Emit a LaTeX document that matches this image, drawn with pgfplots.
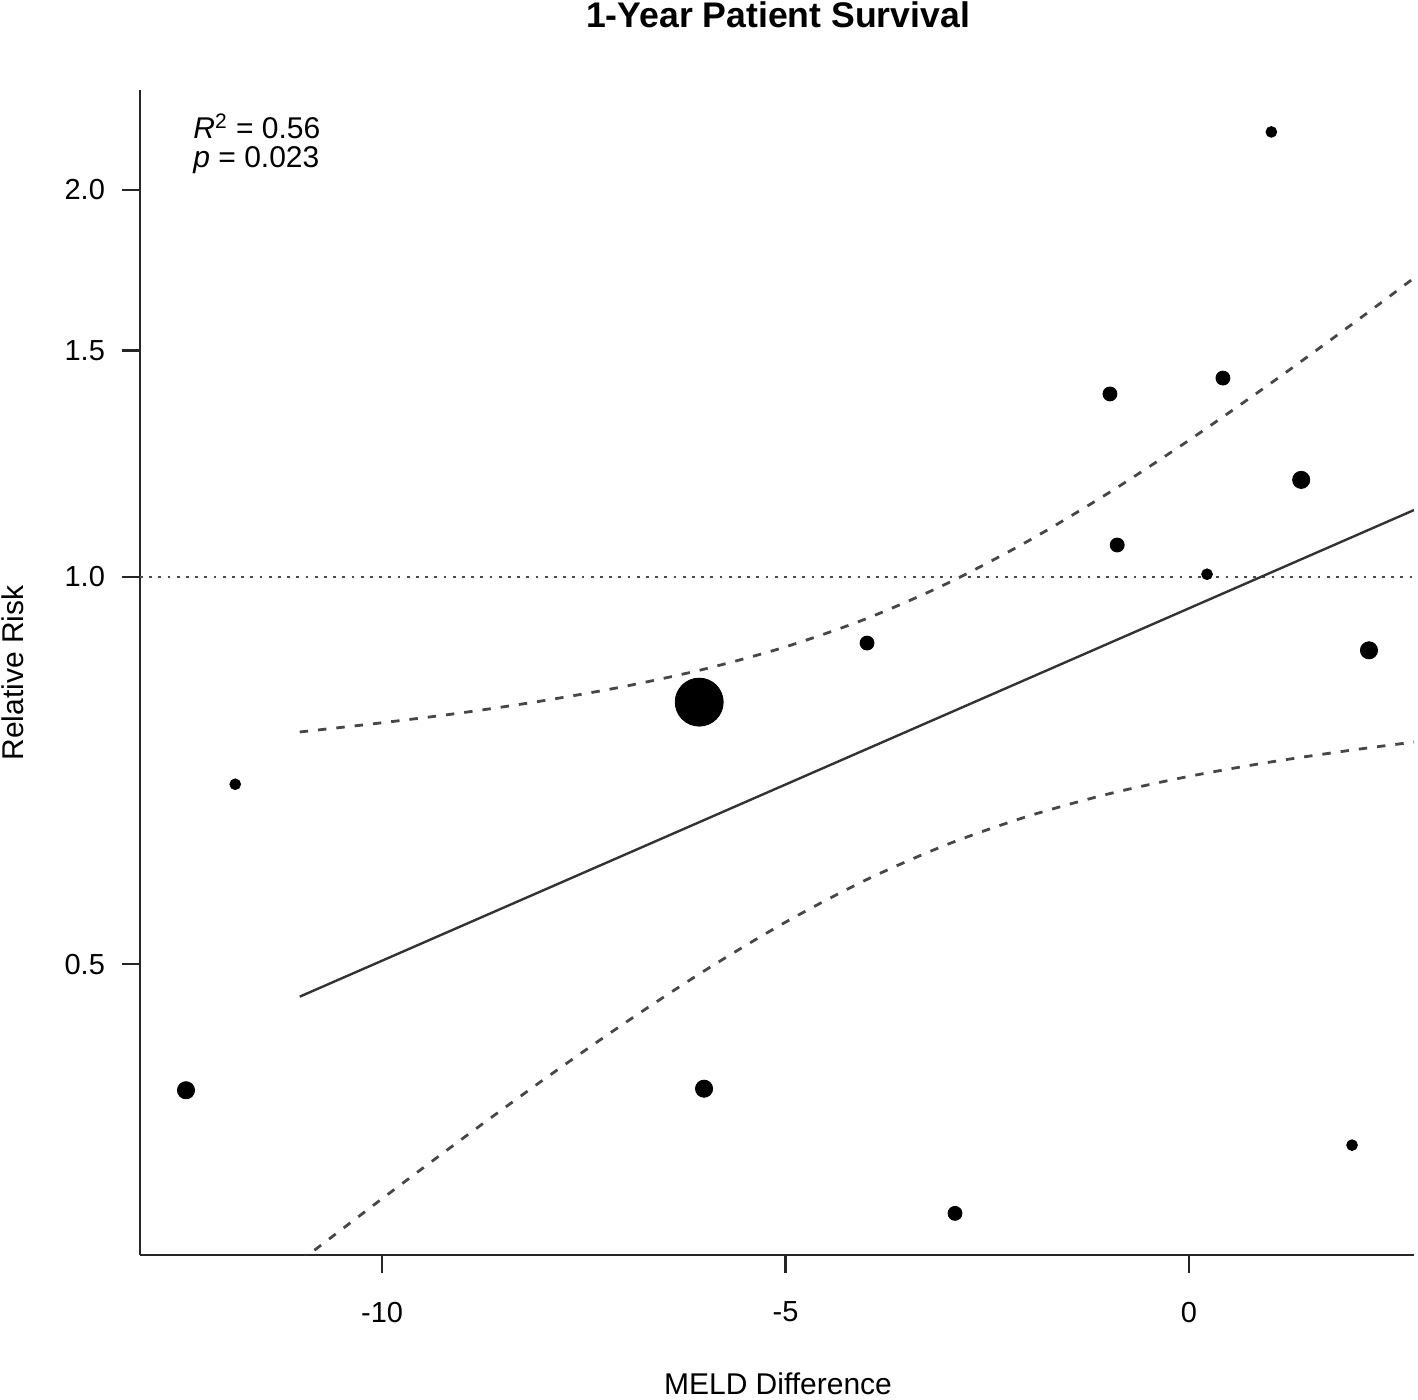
\documentclass[border=0pt]{standalone}
\usepackage{pgfplots}
\pgfplotsset{compat=1.18}
\usepackage{fontspec}
\setmainfont{Liberation Sans}
\begin{document}
\begin{tikzpicture}
\begin{axis}[
  at={(0,0)}, anchor=south west,
  scale only axis, width=637pt, height=582.5pt,
  xmin=-13, xmax=2.788, ymin=0.297, ymax=2.392,
  ymode=log,
  axis x line*=bottom, axis y line*=left,
  axis line style={line width=1.3pt, color=black!85},
  tick style={line width=1.3pt, color=black!85},
  tick align=outside, major tick length=9pt,
  xtick={-10,-5,0}, xticklabels={-10,-5,0},
  ytick={0.5,1,1.5,2}, yticklabels={0.5,1.0,1.5,2.0},
  yminorticks=false, xminorticks=false,
  ticklabel style={font=\fontsize{14.5}{17}\selectfont},
  xticklabel style={yshift=-11pt},
  yticklabel style={xshift=-5pt},
  every axis plot/.append style={line join=round},
]
% reference line at 1
\addplot[black!70, line width=1.2pt, dash pattern=on 1.4pt off 3.2pt] coordinates {(-13,1) (2.788,1)};
% confidence band
\addplot[black!72, line width=1.4pt, dash pattern=on 4.2pt off 5pt, smooth] coordinates {
(-11.02,0.7578) (-10,0.7704) (-9,0.7845) (-8,0.8014) (-7,0.822) (-6,0.8482) (-5,0.8825) (-4,0.9281) (-3,0.9885) (-2,1.0661) (-1,1.1622) (0,1.2776) (1,1.413) (2,1.5692) (2.788,1.7083)};
\addplot[black!72, line width=1.4pt, dash pattern=on 4.2pt off 5pt, smooth] coordinates {
(-11.02,0.2936) (-10,0.3285) (-9,0.366) (-8,0.4065) (-7,0.4496) (-6,0.4943) (-5,0.539) (-4,0.5815) (-3,0.6194) (-2,0.6515) (-1,0.6781) (0,0.6998) (1,0.7179) (2,0.7333) (2.788,0.7441)};
% regression line
\addplot[black!80, line width=1.2pt] coordinates {(-11.02,0.4717) (2.788,1.1274)};
% points
\addplot[only marks, mark=*, mark size=12pt, black] coordinates {(-6.07,0.7994)};
\addplot[only marks, mark=*, mark size=4.3pt, black] coordinates {(-12.43,0.399) (-6.01,0.400) (1.39,1.190) (2.23,0.877)};
\addplot[only marks, mark=*, mark size=3.5pt, black] coordinates {(-0.98,1.388) (0.42,1.428) (-0.89,1.059) (-3.99,0.8885) (-2.90,0.320)};
\addplot[only marks, mark=*, mark size=2.7pt, black] coordinates {(-11.82,0.690) (0.223,1.005) (1.02,2.219) (2.02,0.3616)};
\end{axis}
\node[anchor=base, font=\fontsize{17.8}{20}\selectfont\bfseries] at (319pt,613.5pt) {1-Year Patient Survival};
\node[anchor=base, font=\fontsize{15}{18}\selectfont] at (319pt,-70pt) {MELD Difference};
\node[rotate=90, anchor=center, font=\fontsize{15}{18}\selectfont] at (-63.5pt,291pt) {Relative Risk};
\node[anchor=base west, font=\fontsize{15}{18}\selectfont, inner sep=0pt] at (26.5pt,558pt) {\textit{R}\textsuperscript{2} = 0.56};
\node[anchor=base west, font=\fontsize{15}{18}\selectfont, inner sep=0pt] at (26.5pt,543.5pt) {\textit{p} = 0.023};
\pgfresetboundingbox
\useasboundingbox (-70pt,-72.5pt) rectangle (639pt,627.5pt);
\end{tikzpicture}
\end{document}
